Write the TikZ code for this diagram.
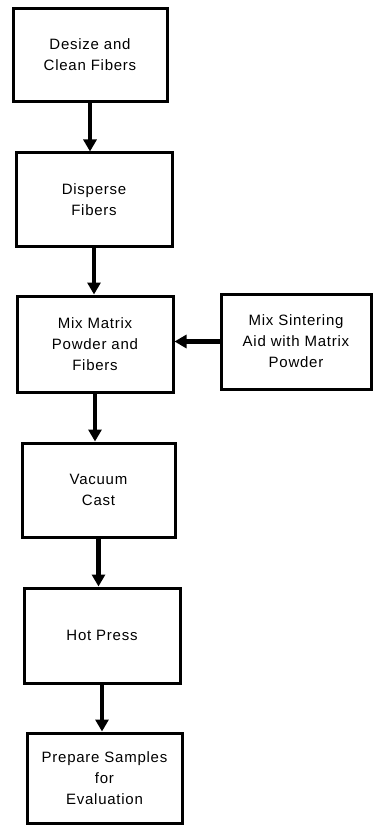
\documentclass[tikz,border=0pt]{standalone}
\usepackage{fontspec}
\newfontfamily\lblfont[LetterSpace=5]{Liberation Sans}
\usetikzlibrary{arrows.meta}
\begin{document}
\begin{tikzpicture}[x=1pt,y=1pt,
  procbox/.style={draw=black, line width=3pt, fill=white, align=center,
    font=\lblfont\fontsize{15}{21}\selectfont, inner sep=0pt},
  flowarrow/.style={line width=4.5pt, -{Triangle[width=13pt,length=12pt]}}]
\useasboundingbox (0,0) rectangle (374,-826);
\node[procbox, minimum width=154pt, minimum height=93pt] (b1) at (90,-55) {Desize and\\Clean Fibers};
\node[procbox, minimum width=156pt, minimum height=93pt] (b2) at (94,-199.5) {Disperse\\Fibers};
\node[procbox, minimum width=156pt, minimum height=96pt] (b3) at (95,-344) {Mix Matrix\\Powder and\\Fibers};
\node[procbox, minimum width=150pt, minimum height=95pt] (b4) at (296,-341.5) {Mix Sintering\\Aid with Matrix\\Powder};
\node[procbox, minimum width=153pt, minimum height=94pt] (b5) at (98.5,-490) {Vacuum\\Cast};
\node[procbox, minimum width=156pt, minimum height=95pt] (b6) at (102,-635.5) {Hot Press};
\node[procbox, minimum width=155pt, minimum height=90pt] (b7) at (104.5,-778) {Prepare Samples\\for\\Evaluation};
\draw[flowarrow] (b1.south) -- (b1.south |- b2.north);
\draw[flowarrow] (b2.south) -- (b2.south |- b3.north);
\draw[flowarrow] (b4.west) -- (b4.west -| b3.east);
\draw[flowarrow] (b3.south) -- (b3.south |- b5.north);
\draw[flowarrow] (b5.south) -- (b5.south |- b6.north);
\draw[flowarrow] (b6.south) -- (b6.south |- b7.north);
\end{tikzpicture}
\end{document}
